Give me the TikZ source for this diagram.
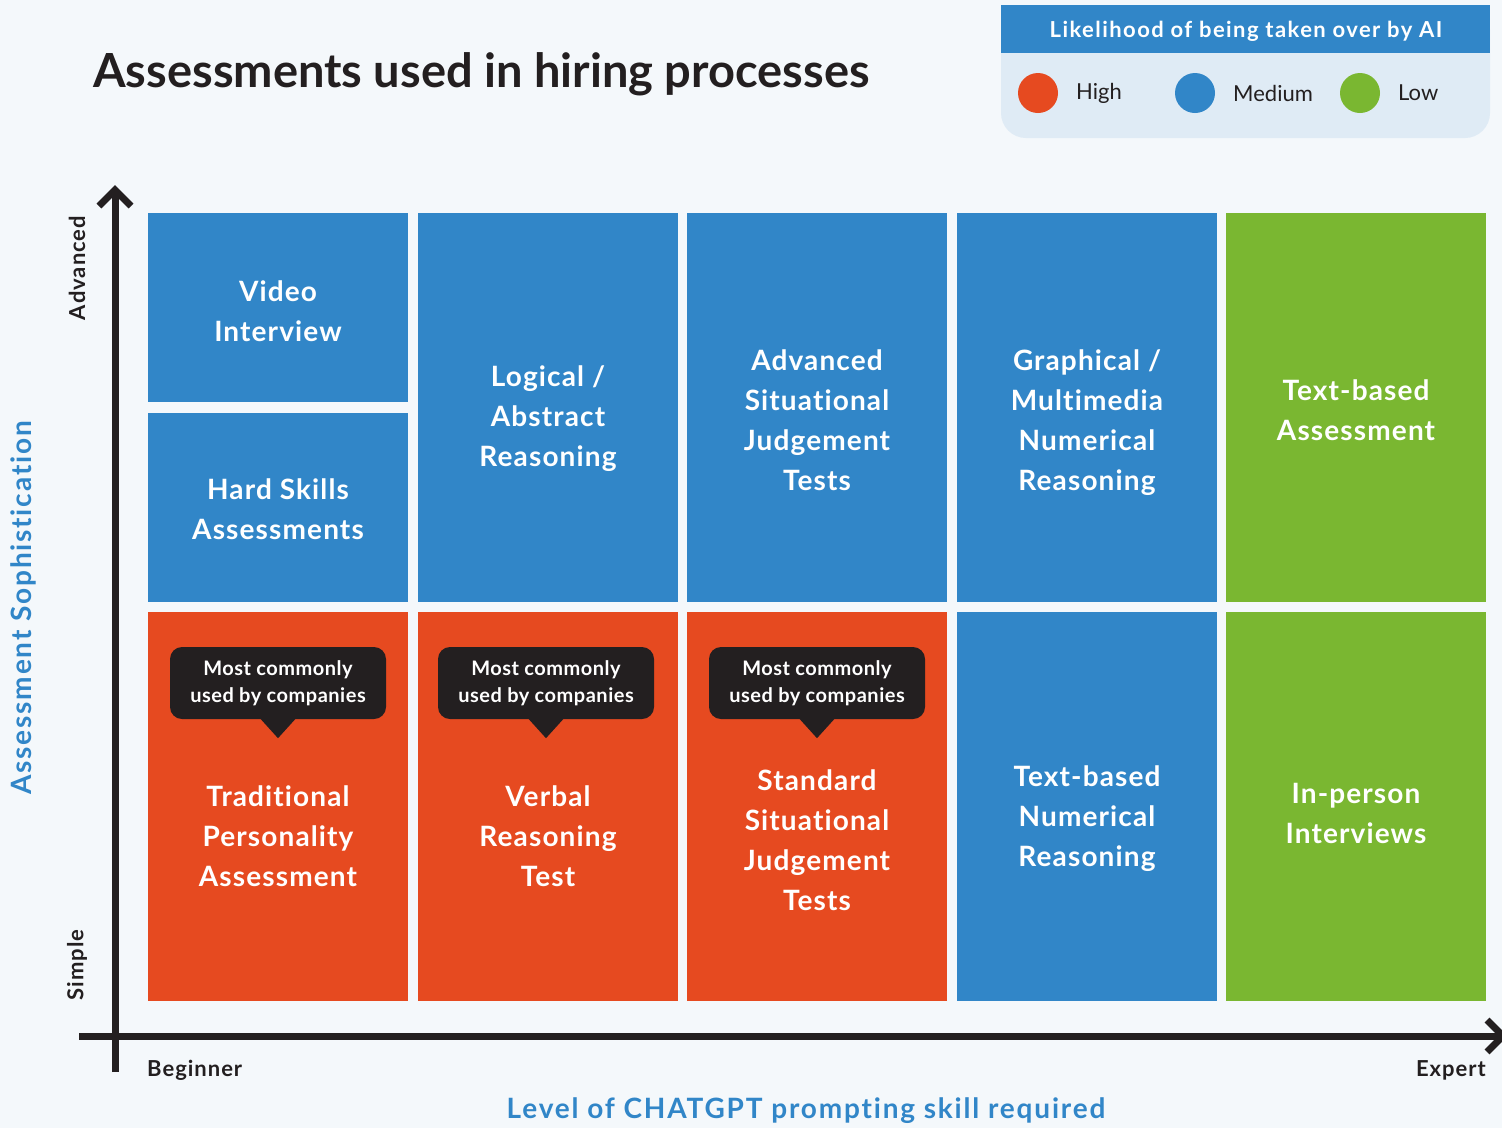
\documentclass[tikz,border=0pt]{standalone}
\usepackage{fontspec}
\setmainfont{Lato}
\newfontfamily\lsCell[LetterSpace=4,Ligatures=NoCommon]{Lato}
\newfontfamily\lsCall[LetterSpace=2.5,Ligatures=NoCommon]{Lato}
\newfontfamily\lsWide[LetterSpace=6.5,Ligatures=NoCommon]{Lato}
\newfontfamily\lsAx[LetterSpace=4.5,Ligatures=NoCommon]{Lato}
\usetikzlibrary{calc}
\definecolor{bg}{HTML}{F4F8FB}
\definecolor{cblue}{HTML}{3186C8}
\definecolor{cred}{HTML}{E64A20}
\definecolor{cgreen}{HTML}{7AB731}
\definecolor{cdark}{HTML}{231F20}
\definecolor{legbg}{HTML}{DFEBF5}
\tikzset{
  cell/.style={inner sep=0pt, minimum width=260pt, minimum height=389pt},
  halfcell/.style={inner sep=0pt, minimum width=260pt, minimum height=189pt},
  celltxt/.style={text=white, align=center, inner sep=0pt, font=\lsCell\fontsize{28}{40}\selectfont\bfseries},
  callout/.style={fill=cdark, rounded corners=12pt, minimum width=216pt, minimum height=72pt, inner sep=0pt, text=white, align=center, font=\lsCall\fontsize{20}{27}\selectfont\bfseries},
  axis/.style={draw=cdark, line width=7pt, line join=miter},
  axlab/.style={text=cdark, inner sep=0pt, font=\lsAx\fontsize{22}{26}\selectfont\bfseries},
  bluelab/.style={text=cblue, inner sep=0pt, font=\lsWide\fontsize{28}{32}\selectfont\bfseries},
  legdot/.style={circle, minimum size=40pt, inner sep=0pt},
  leglab/.style={text=cdark, anchor=west, inner sep=0pt, font=\fontsize{22}{26}\selectfont}
}
\begin{document}
\begin{tikzpicture}[x=1pt,y=-1pt]
\fill[bg] (0,0) rectangle (1502,1128);
\useasboundingbox (0,0) rectangle (1502,1128);

% title
\node[anchor=west, inner sep=0pt, text=cdark, font=\fontsize{47}{50}\selectfont\bfseries] (title) at (93,74) {Assessments used in hiring processes};

% legend
\node[fill=legbg, rounded corners=25pt, minimum width=489pt, minimum height=133pt, inner sep=0pt] (legend) at (1245.5,71.5) {};
\node[fill=cblue, minimum width=489pt, minimum height=48pt, inner sep=0pt] (leghead) at (1245.5,29) {};
\node[text=white, inner sep=0pt, font=\lsWide\fontsize{22}{26}\selectfont\bfseries] (legtitle) at (1246,31) {Likelihood of being taken over by AI};
\node[legdot, fill=cred] (dh) at (1038,93) {};
\node[leglab] (lh) at (1076,93) {High};
\node[legdot, fill=cblue] (dm) at (1195,93) {};
\node[leglab] (lm) at (1233,93) {Medium};
\node[legdot, fill=cgreen] (dl) at (1360,93) {};
\node[leglab] (ll) at (1398,93) {Low};

% cells top row
\node[halfcell, fill=cblue] (c1a) at (278,307) {};
\node[halfcell, fill=cblue] (c1b) at (278,507.5) {};
\node[cell, fill=cblue] (c2t) at (548,407) {};
\node[cell, fill=cblue] (c3t) at (817,407) {};
\node[cell, fill=cblue] (c4t) at (1087,407) {};
\node[cell, fill=cgreen] (c5t) at (1356,407) {};
% bottom row
\node[cell, fill=cred] (c1d) at (278,806.5) {};
\node[cell, fill=cred] (c2d) at (548,806.5) {};
\node[cell, fill=cred] (c3d) at (817,806.5) {};
\node[cell, fill=cblue] (c4d) at (1087,806.5) {};
\node[cell, fill=cgreen] (c5d) at (1356,806.5) {};

% cell texts
\node[celltxt] (t1a) at (278,311) {Video\\Interview};
\node[celltxt] (t1b) at (278,509) {Hard Skills\\Assessments};
\node[celltxt] (t2t) at (548,419) {Logical /\\Abstract\\Reasoning};
\node[celltxt] (t3t) at (817,420) {Advanced\\Situational\\Judgement\\Tests};
\node[celltxt] (t4t) at (1087,423) {Graphical /\\Multimedia\\Numerical\\Reasoning};
\node[celltxt] (t5t) at (1356,410) {Text-based\\Assessment};
\node[celltxt] (t1d) at (278,836) {Traditional\\Personality\\Assessment};
\node[celltxt] (t2d) at (548,836) {Verbal\\Reasoning\\Test};
\node[celltxt] (t3d) at (817,840) {Standard\\Situational\\Judgement\\Tests};
\node[celltxt] (t4d) at (1087,819) {Text-based\\Numerical\\Reasoning};
\node[celltxt] (t5d) at (1356,813) {In-person\\Interviews};

% callouts
\foreach \n/\x in {k1/278, k2/546, k3/817}{
  \node[callout] (\n) at (\x,683) {Most commonly\\used by companies};
  \fill[cdark] ($(\n.south)+(-19,-2)$) -- ($(\n.south)+(0,19)$) -- ($(\n.south)+(19,-2)$) -- cycle;
}

% axes
\coordinate (yb) at (115,1072);
\coordinate (yt) at (115,190);
\coordinate (xl) at (79,1036);
\coordinate (xr) at (1503,1036);
\draw[axis] (yb) -- (yt);
\draw[axis] ($(yt)+(-16,16)$) -- (yt) -- ($(yt)+(16,16)$);
\draw[axis] (xl) -- (xr);
\draw[axis] ($(xr)+(-16,-16)$) -- (xr) -- ($(xr)+(-16,16)$);

% axis labels
\node[axlab, rotate=90] (adv) at (77,268) {Advanced};
\node[axlab, rotate=90] (simp) at (77,965) {Simple};
\node[bluelab, rotate=90] (ylab) at (23,608) {Assessment Sophistication};
\node[axlab, anchor=west] (beg) at (147,1070) {Beginner};
\node[axlab, anchor=east] (exp) at (1486,1070) {Expert};
\node[bluelab] (xlab) at (806,1111) {Level of CHATGPT prompting skill required};
\end{tikzpicture}
\end{document}
